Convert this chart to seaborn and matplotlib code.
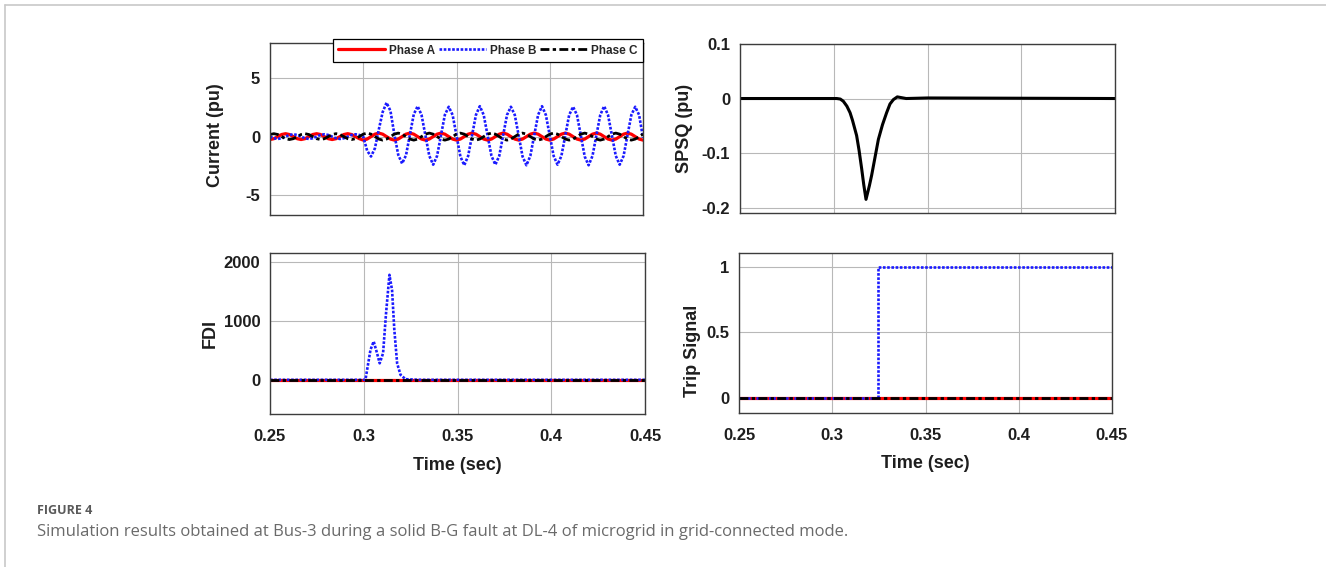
import matplotlib
matplotlib.use("Agg")
import numpy as np
import pandas as pd
import seaborn as sns
import matplotlib.pyplot as plt
from matplotlib.lines import Line2D

# ---------------- data ----------------
x_ticks = [0.25, 0.3, 0.35, 0.4, 0.45]
x_tick_labels = ["0.25", "0.3", "0.35", "0.4", "0.45"]

# current waveforms sampled every 1/480 s from 0.25 s to 0.45 s
sample_step = 1 / 480
current_time = [0.25 + n * sample_step for n in range(97)]

phase_a_current = [
    -0.25, -0.18, 0.0, 0.18, 0.25, 0.18, 0.0, -0.18,
    -0.25, -0.18, 0.0, 0.18, 0.25, 0.18, 0.0, -0.18,
    -0.25, -0.18, 0.0, 0.18, 0.25, 0.18, 0.0, -0.18,
    -0.30, -0.21, 0.0, 0.21, 0.30, 0.21, 0.0, -0.21,
    -0.30, -0.21, 0.0, 0.21, 0.30, 0.21, 0.0, -0.21,
    -0.30, -0.21, 0.0, 0.21, 0.30, 0.21, 0.0, -0.21,
    -0.30, -0.21, 0.0, 0.21, 0.30, 0.21, 0.0, -0.21,
    -0.30, -0.21, 0.0, 0.21, 0.30, 0.21, 0.0, -0.21,
    -0.30, -0.21, 0.0, 0.21, 0.30, 0.21, 0.0, -0.21,
    -0.30, -0.21, 0.0, 0.21, 0.30, 0.21, 0.0, -0.21,
    -0.30, -0.21, 0.0, 0.21, 0.30, 0.21, 0.0, -0.21,
    -0.30, -0.21, 0.0, 0.21, 0.30, 0.21, 0.0, -0.21,
    -0.30,
]
phase_b_current = [
    0.0, -0.14, -0.20, -0.14, 0.0, 0.14, 0.20, 0.14,
    0.0, -0.14, -0.20, -0.14, 0.0, 0.14, 0.20, 0.14,
    0.0, -0.14, -0.20, -0.14, 0.0, 0.14, 0.20, 0.14,
    0.0, -1.20, -1.70, -1.00, 0.60, 2.10, 2.90, 2.20,
    0.20, -1.55, -2.30, -1.60, 0.15, 1.90, 2.60, 1.85,
    0.10, -1.65, -2.40, -1.65, 0.10, 1.85, 2.55, 1.85,
    0.10, -1.70, -2.45, -1.65, 0.10, 1.85, 2.60, 1.85,
    0.10, -1.65, -2.40, -1.65, 0.10, 1.85, 2.55, 1.85,
    0.10, -1.70, -2.45, -1.65, 0.10, 1.85, 2.60, 1.85,
    0.10, -1.65, -2.40, -1.65, 0.10, 1.85, 2.55, 1.85,
    0.10, -1.70, -2.45, -1.65, 0.10, 1.85, 2.60, 1.85,
    0.10, -1.65, -2.40, -1.65, 0.10, 1.85, 2.55, 1.85,
    -0.10,
]
phase_c_current = [
    0.18, 0.25, 0.18, 0.0, -0.18, -0.25, -0.18, 0.0,
    0.18, 0.25, 0.18, 0.0, -0.18, -0.25, -0.18, 0.0,
    0.18, 0.25, 0.18, 0.0, -0.18, -0.25, -0.18, 0.0,
    0.21, 0.30, 0.21, 0.0, -0.21, -0.30, -0.21, 0.0,
    0.21, 0.30, 0.21, 0.0, -0.21, -0.30, -0.21, 0.0,
    0.21, 0.30, 0.21, 0.0, -0.21, -0.30, -0.21, 0.0,
    0.21, 0.30, 0.21, 0.0, -0.21, -0.30, -0.21, 0.0,
    0.21, 0.30, 0.21, 0.0, -0.21, -0.30, -0.21, 0.0,
    0.21, 0.30, 0.21, 0.0, -0.21, -0.30, -0.21, 0.0,
    0.21, 0.30, 0.21, 0.0, -0.21, -0.30, -0.21, 0.0,
    0.21, 0.30, 0.21, 0.0, -0.21, -0.30, -0.21, 0.0,
    0.21, 0.30, 0.21, 0.0, -0.21, -0.30, -0.21, 0.0,
    0.21,
]

spsq_time = [0.25, 0.3016, 0.3035, 0.3051, 0.3070, 0.3087, 0.3100, 0.3122,
             0.3135, 0.3149, 0.3160, 0.3172, 0.3190, 0.3202, 0.3220, 0.3238,
             0.3260, 0.3282, 0.3300, 0.3318, 0.3339, 0.3386, 0.35, 0.45]
spsq_value = [0.0, 0.0, -0.001, -0.005, -0.014, -0.026, -0.040, -0.068,
              -0.095, -0.129, -0.158, -0.185, -0.160, -0.141, -0.108, -0.075,
              -0.048, -0.026, -0.010, -0.002, 0.003, 0.0, 0.001, 0.0]

fdi_time = [0.25, 0.3009, 0.3018, 0.3036, 0.3053, 0.3071, 0.3085, 0.3103,
            0.3119, 0.3137, 0.3151, 0.3163, 0.3178, 0.3196, 0.3223, 0.33, 0.45]
fdi_b = [0, 0, 170, 510, 650, 450, 280, 450,
         1130, 1780, 1520, 850, 280, 85, 10, 0, 0]
fdi_flat_time = [0.25, 0.45]
fdi_a = [0, 0]
fdi_c = [0, 0]

trip_time_b = [0.25, 0.3247, 0.3247, 0.45]
trip_b = [0, 0, 1, 1]
trip_flat_time = [0.25, 0.45]
trip_a = [0, 0]
trip_c = [0, 0]

phase_names = ["Phase A", "Phase B", "Phase C"]

# ---------------- style ----------------
sns.set_theme(style="white")
plt.rcParams["font.family"] = ["Liberation Sans", "DejaVu Sans"]
plt.rcParams["axes.unicode_minus"] = False

RED = "#ff0000"
BLUE = "#1a1aff"
BLACK = "#000000"
A_KW = dict(color=RED, linewidth=2.3, linestyle="-")
B_KW = dict(color=BLUE, linewidth=1.9, linestyle=(0, (1, 0.6)))
C_KW = dict(color=BLACK, linewidth=2.0, linestyle=(0, (3.2, 1.2, 1.2, 1.2)))

W, H = 1326, 567
fig = plt.figure(figsize=(W / 100, H / 100), dpi=100)
fig.patch.set_facecolor("white")


def axes_px(left, top, right, bottom):
    return fig.add_axes([left / W, 1 - bottom / H, (right - left) / W, (bottom - top) / H])


def style(ax, ylim, yticks, ylabels, show_x, ylabel, ylab_xy):
    ax.set_xlim(0.25, 0.45)
    ax.set_ylim(*ylim)
    ax.set_xticks(x_ticks)
    ax.set_yticks(yticks)
    ax.set_yticklabels(ylabels, fontsize=12, fontweight="bold", color="#1e1e1e")
    if show_x:
        ax.set_xticklabels(x_tick_labels, fontsize=12, fontweight="bold", color="#1e1e1e")
        ax.set_xlabel("Time (sec)", fontsize=13, fontweight="bold", color="#1e1e1e")
        ax.xaxis.set_label_coords(0.5, -0.317)
        ax.xaxis.label.set_va("center")
    else:
        ax.set_xticklabels([])
        ax.set_xlabel("")
    ax.set_ylabel(ylabel, fontsize=13, fontweight="bold", color="#1e1e1e")
    ax.yaxis.set_label_coords(*ylab_xy)
    ax.yaxis.label.set_va("center")
    ax.grid(True, color="#b8b8b8", linewidth=0.8)
    ax.set_axisbelow(True)
    for s in ax.spines.values():
        s.set_visible(True)
        s.set_color("#3c3c3c")
        s.set_linewidth(1.0)
    ax.tick_params(axis="x", direction="in", length=0, pad=11)
    ax.tick_params(axis="y", direction="in", length=0, pad=7)
    ax.set_facecolor("white")


def draw(ax, t, y, kw):
    sns.lineplot(x=t, y=y, ax=ax, estimator=None, sort=False, legend=False, **kw)


# top-left: current
ax1 = axes_px(270, 43, 643, 215)
draw(ax1, current_time, phase_a_current, A_KW)
draw(ax1, current_time, phase_b_current, B_KW)
draw(ax1, current_time, phase_c_current, C_KW)
style(ax1, (-6.7, 8.0), [-5, 0, 5], ["-5", "0", "5"], False, "Current (pu)", (-0.147, 0.465))
handles = [Line2D([], [], **A_KW), Line2D([], [], **B_KW), Line2D([], [], **C_KW)]
leg = ax1.legend(handles, phase_names, ncol=3, loc="upper right",
                 bbox_to_anchor=(1.0, 1.022), prop={"size": 8.5, "weight": "bold"},
                 frameon=True, fancybox=False, edgecolor="black", framealpha=1,
                 handlelength=4.0, handletextpad=0.3, columnspacing=0.35,
                 borderpad=0.45, borderaxespad=0)
leg.get_frame().set_linewidth(0.9)

# top-right: SPSQ
ax2 = axes_px(740, 44, 1115, 213)
draw(ax2, spsq_time, spsq_value, dict(color=BLACK, linewidth=2.2))
style(ax2, (-0.21, 0.1), [-0.2, -0.1, 0, 0.1], ["-0.2", "-0.1", "0", "0.1"], False,
      "SPSQ (pu)", (-0.149, 0.5))

# bottom-left: FDI
ax3 = axes_px(270, 253, 645, 414)
draw(ax3, fdi_flat_time, fdi_a, A_KW)
draw(ax3, fdi_time, fdi_b, B_KW)
draw(ax3, fdi_flat_time, fdi_c, C_KW)
style(ax3, (-580, 2150), [0, 1000, 2000], ["0", "1000", "2000"], True, "FDI", (-0.16, 0.5))

# bottom-right: trip signal
ax4 = axes_px(739, 253, 1112, 413)
draw(ax4, trip_flat_time, trip_a, A_KW)
draw(ax4, trip_time_b, trip_b, B_KW)
draw(ax4, trip_flat_time, trip_c, C_KW)
style(ax4, (-0.115, 1.107), [0, 0.5, 1], ["0", "0.5", "1"], True, "Trip Signal", (-0.126, 0.39))

# frame lines
fig.add_artist(Line2D([4.5 / W, 4.5 / W], [0, 1 - 5 / H], transform=fig.transFigure,
                      color="#c8c8c8", linewidth=1.2))
fig.add_artist(Line2D([4.5 / W, 1], [1 - 5 / H, 1 - 5 / H], transform=fig.transFigure,
                      color="#c8c8c8", linewidth=1.2))

# caption
fig.text(37 / W, 1 - 514 / H, "FIGURE 4", fontsize=9, fontweight="bold",
         color="#5a5a5a", family=["Open Sans", "DejaVu Sans"], va="baseline", ha="left")
fig.text(37 / W, 1 - 536 / H,
         "Simulation results obtained at Bus-3 during a solid B-G fault at DL-4 of microgrid in grid-connected mode.",
         fontsize=12, color="#6a6a6a", family=["Open Sans", "DejaVu Sans"], va="baseline", ha="left")

fig.savefig("out.png", dpi=100, facecolor="white")
